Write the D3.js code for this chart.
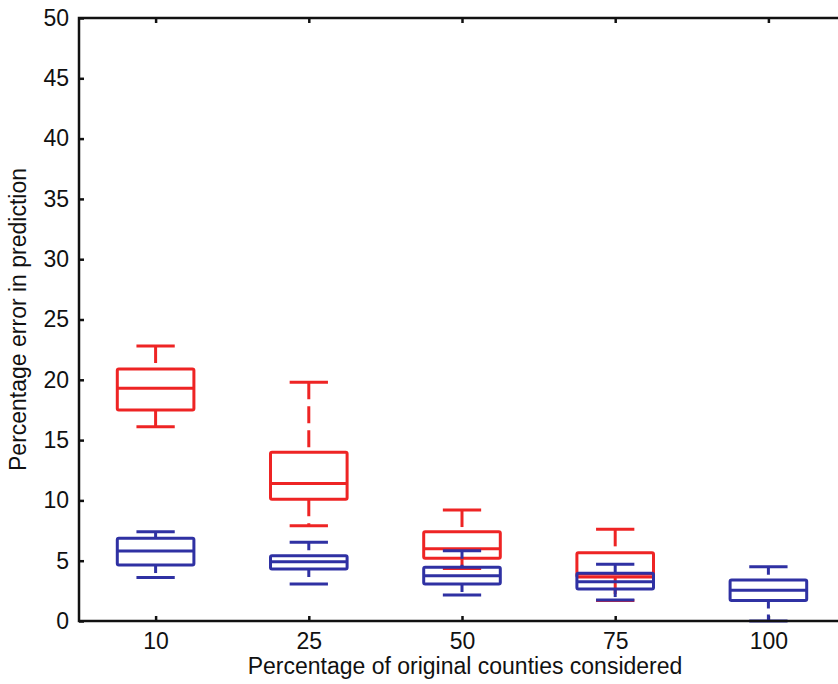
<!DOCTYPE html>
<html>
  <head>
    <meta charset="utf-8">
    <title>Boxplot</title>
    <script src="https://cdn.jsdelivr.net/npm/d3@7"></script>
    <style>
      body { margin: 0; background: #fff; }
      text { font-family: "Liberation Sans", Arial, sans-serif; fill: #111; }
    </style>
  </head>
  <body>

    <svg class="box" width="838" height="684"></svg>

    <script>

      var categories = ["10", "25", "50", "75", "100"];
      var yTicks = [0, 5, 10, 15, 20, 25, 30, 35, 40, 45, 50];

      // each row: [lower whisker, q1, median, q3, upper whisker]
      var redStats = [
        [16.1, 17.5, 19.3, 20.9, 22.8],
        [7.9, 10.1, 11.4, 14.0, 19.8],
        [4.35, 5.2, 6.0, 7.4, 9.2],
        [1.7, 3.65, 3.9, 5.65, 7.6],
        null
      ];
      var blueStats = [
        [3.6, 4.64, 5.8, 6.86, 7.4],
        [3.07, 4.31, 4.92, 5.41, 6.53],
        [2.16, 3.07, 3.76, 4.45, 5.83],
        [1.74, 2.65, 3.26, 3.95, 4.7],
        [0, 1.7, 2.55, 3.4, 4.5]
      ];

      var padL = 79, padT = 18, padB = 621, padR = 845;

      var x = d3.scalePoint().domain(categories).range([padL, padR]).padding(0.5);
      var y = d3.scaleLinear().domain([0, 50]).range([padB, padT]);
      var boxW = x.step() * 0.5;

      var svg = d3.select("svg.box");

      function styleTicks(g) {
        g.select(".domain").remove();
        g.selectAll("line").attr("stroke", "#111").attr("stroke-width", 2.5);
        g.selectAll("text").style("font-size", "23px").attr("fill", "#111");
      }

      // inward ticks on all four sides
      svg.append("g")
        .attr("transform", "translate(" + padL + ",0)")
        .call(d3.axisLeft(y).tickValues(yTicks).tickSizeInner(-5).tickSizeOuter(0).tickPadding(10))
        .call(styleTicks);

      svg.append("g")
        .attr("transform", "translate(" + padR + ",0)")
        .call(d3.axisRight(y).tickValues(yTicks).tickSizeInner(-5).tickSizeOuter(0).tickFormat(""))
        .call(styleTicks);

      svg.append("g")
        .attr("transform", "translate(0," + padB + ")")
        .call(d3.axisBottom(x).tickSizeInner(-5).tickSizeOuter(0).tickPadding(12))
        .call(styleTicks);

      svg.append("g")
        .attr("transform", "translate(0," + padT + ")")
        .call(d3.axisTop(x).tickSizeInner(-5).tickSizeOuter(0).tickFormat(""))
        .call(styleTicks);

      function drawBoxes(stats, color, dash) {
        var data = categories.map(function(c, i) { return { cat: c, s: stats[i] }; })
          .filter(function(d) { return d.s; });
        var g = svg.append("g").attr("stroke", color).attr("stroke-width", 3).attr("fill", "none");

        var b = g.selectAll("g").data(data).enter().append("g");

        // whiskers, drawn top to bottom
        b.append("line")
          .attr("x1", function(d) { return x(d.cat); })
          .attr("x2", function(d) { return x(d.cat); })
          .attr("y1", function(d) { return y(d.s[4]); })
          .attr("y2", function(d) { return y(d.s[3]); })
          .attr("stroke-dasharray", dash);
        b.append("line")
          .attr("x1", function(d) { return x(d.cat); })
          .attr("x2", function(d) { return x(d.cat); })
          .attr("y1", function(d) { return y(d.s[1]); })
          .attr("y2", function(d) { return y(d.s[0]); })
          .attr("stroke-dasharray", dash);

        // caps
        [0, 4].forEach(function(k) {
          b.append("line")
            .attr("x1", function(d) { return x(d.cat) - boxW / 4; })
            .attr("x2", function(d) { return x(d.cat) + boxW / 4; })
            .attr("y1", function(d) { return y(d.s[k]); })
            .attr("y2", function(d) { return y(d.s[k]); });
        });

        b.append("rect")
          .attr("x", function(d) { return x(d.cat) - boxW / 2; })
          .attr("width", boxW)
          .attr("y", function(d) { return y(d.s[3]); })
          .attr("height", function(d) { return y(d.s[1]) - y(d.s[3]); })
          .attr("rx", 1.5);

        b.append("line")
          .attr("x1", function(d) { return x(d.cat) - boxW / 2; })
          .attr("x2", function(d) { return x(d.cat) + boxW / 2; })
          .attr("y1", function(d) { return y(d.s[2]); })
          .attr("y2", function(d) { return y(d.s[2]); });
      }

      drawBoxes(redStats, "#ee2424", "17,7");
      drawBoxes(blueStats, "#2f31a3", "8,6");

      // axes frame on top
      svg.append("rect")
        .attr("x", padL).attr("y", padT)
        .attr("width", padR - padL).attr("height", padB - padT)
        .attr("fill", "none").attr("stroke", "#111").attr("stroke-width", 2.5);

      svg.append("text")
        .attr("x", 465)
        .attr("y", 674)
        .attr("text-anchor", "middle")
        .style("font-size", "23px")
        .text("Percentage of original counties considered");

      svg.append("text")
        .attr("transform", "translate(26," + ((padT + padB) / 2) + ") rotate(-90)")
        .attr("text-anchor", "middle")
        .style("font-size", "23px")
        .text("Percentage error in prediction");

    </script>
  </body>
</html>
